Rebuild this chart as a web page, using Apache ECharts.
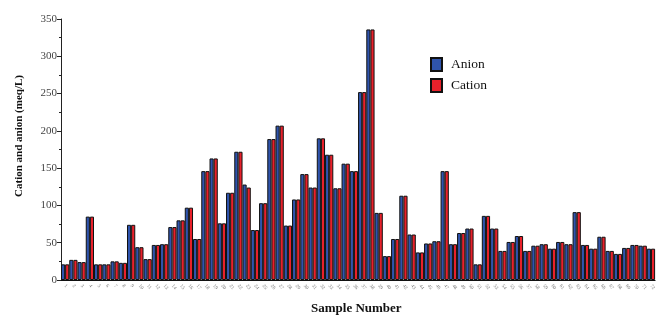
<!DOCTYPE html>
<html>
<head>
<meta charset="utf-8">
<script src="https://cdn.jsdelivr.net/npm/echarts@6/dist/echarts.min.js"></script>
<style>html,body{margin:0;padding:0;background:#fff}#c{width:658px;height:315px}</style>
</head>
<body>
<div id="c"></div>
<script>
const samples = Array.from({length: 72}, (_, i) => String(i + 1));
const anion = [21,27,24,85,21,21,25,23,74,44,28,47,48,71,80,97,55,146,163,76,117,172,128,67,103,189,207,73,108,142,124,190,168,123,156,146,252,336,90,32,55,113,61,37,49,52,146,48,63,69,21,86,69,39,51,59,39,46,48,42,51,48,91,47,42,58,39,35,43,47,46,42];
const cation = [21,27,24,85,21,21,25,23,74,44,28,47,48,71,80,97,55,146,163,76,117,172,124,67,103,189,207,73,108,142,124,190,168,123,156,146,252,336,90,32,55,113,61,37,49,52,146,48,63,69,21,86,69,39,51,59,39,46,48,42,51,48,91,47,42,58,39,35,43,47,46,42];
const yTicks = [0, 50, 100, 150, 200, 250, 300, 350];

const serif = '"Liberation Serif", "DejaVu Serif", serif';
const chart = echarts.init(document.getElementById('c'), null, {renderer: 'canvas'});
chart.setOption({
  animation: false,
  backgroundColor: '#fff',
  grid: {left: 61, right: -2, top: 19, bottom: 35, containLabel: false},
  legend: {
    orient: 'vertical', left: 425, top: 52, itemWidth: 11, itemHeight: 13, itemGap: 6,
    icon: 'rect',
    textStyle: {fontFamily: serif, fontSize: 13.5, color: '#111', padding: [0, 0, 0, 4]},
    data: ['Anion', 'Cation']
  },
  xAxis: {
    type: 'category', data: samples,
    axisLine: {lineStyle: {color: '#111', width: 1}},
    axisTick: {show: false},
    axisLabel: {interval: 0, rotate: -50, fontSize: 5, color: '#777', fontFamily: serif, margin: 5}
  },
  yAxis: {
    type: 'value', min: yTicks[0], max: yTicks[yTicks.length - 1], interval: 50,
    axisLine: {show: true, lineStyle: {color: '#222', width: 1}},
    axisTick: {show: true, length: 4, lineStyle: {color: '#222'}},
    minorTick: {show: true, splitNumber: 2, length: 2, lineStyle: {color: '#222'}},
    splitLine: {show: false},
    axisLabel: {fontFamily: serif, fontSize: 11, color: '#444', margin: 4}
  },
  graphic: [
    {type: 'text', left: 14, top: 75, rotation: Math.PI / 2,
     style: {text: 'Cation and anion (meq/L)', font: 'bold 11px ' + serif, fill: '#111'}},
    {type: 'text', left: 311, top: 302,
     style: {text: 'Sample Number', font: 'bold 13px ' + serif, fill: '#111'}}
  ],
  series: [
    {name: 'Anion', type: 'bar', data: anion, barGap: '0%', barCategoryGap: '0%',
     itemStyle: {color: '#2f54ad', borderColor: '#111', borderWidth: 1}},
    {name: 'Cation', type: 'bar', data: cation, barGap: '0%', barCategoryGap: '0%',
     itemStyle: {color: '#e8212b', borderColor: '#111', borderWidth: 1}}
  ]
});
</script>
</body>
</html>
